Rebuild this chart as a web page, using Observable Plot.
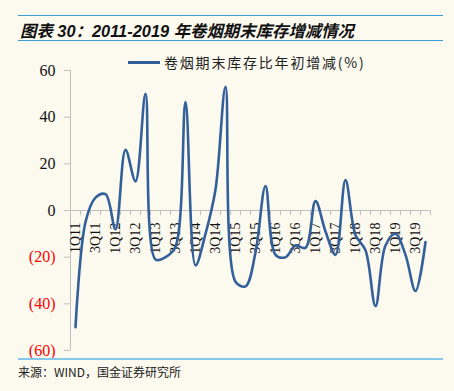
<!DOCTYPE html>
<html>
<head>
<meta charset="utf-8">
<script src="https://cdn.jsdelivr.net/npm/d3@7"></script>
<script src="https://cdn.jsdelivr.net/npm/@observablehq/plot@0.6"></script>
<style>
  html, body { margin: 0; padding: 0; background: #fcf9ef; }
  #wrap { position: relative; width: 454px; height: 391px; overflow: hidden; background: #fcf9ef; }
  #title { position: absolute; left: 18px; top: 15px; width: 425px; height: 26px;
    border-top: 1px solid #3d9ad6; border-bottom: 1px solid #3d9ad6; box-sizing: border-box; }
  #title span { position: absolute; left: 2px; top: 2px; font: italic bold 16.4px "Liberation Sans", "Noto Sans CJK SC", sans-serif; color: #111; white-space: nowrap; }
  #chart { position: absolute; left: 0; top: 50px; }
  #legend { position: absolute; left: 128px; top: 52px; display: flex; align-items: center; white-space: nowrap; }
  #legend .sw { width: 32px; height: 3px; background: #33609a; margin-right: 4px; }
  #legend .tx { font: 14px "Noto Sans CJK SC", "Liberation Serif", serif; letter-spacing: 1.8px; color: #222; }
  #rule { position: absolute; left: 18px; top: 358px; width: 425px; height: 2px; background: #86c8ec; }
  #source { position: absolute; left: 18px; top: 363px; font: 12px "Noto Sans CJK SC", "Liberation Sans", sans-serif; color: #222; white-space: nowrap; }
</style>
</head>
<body>
<div id="wrap">
  <div id="title"><span>图表 30：2011-2019 年卷烟期末库存增减情况</span></div>
  <div id="chart"></div>
  <div id="legend"><div class="sw"></div><div class="tx">卷烟期末库存比年初增减(%)</div></div>
  <div id="rule"></div>
  <div id="source">来源：WIND，国金证券研究所</div>
</div>
<script>
const quarters = [
  "1Q11","2Q11","3Q11","4Q11","1Q12","2Q12","3Q12","4Q12",
  "1Q13","2Q13","3Q13","4Q13","1Q14","2Q14","3Q14","4Q14",
  "1Q15","2Q15","3Q15","4Q15","1Q16","2Q16","3Q16","4Q16",
  "1Q17","2Q17","3Q17","4Q17","1Q18","2Q18","3Q18","4Q18",
  "1Q19","2Q19","3Q19","4Q19"
];
const inventoryChange = [
  -50, -5, 5.5, 7, -8, 26, 12.5, 50,
  -21, -20, -15.5, 46.5, -23.5, -10, 9, 53,
  -30.5, -32.5, -18, 10.5, -19, -20, -15, -16,
  4, -9, -19, 13, -10.5, -17, -41, -15,
  -10, -19, -34.5, -13.5
];
const yTicks = [-60, -40, -20, 0, 20, 40, 60];

const data = quarters.map((q, i) => ({q, i, v: inventoryChange[i]}));
const xTicks = d3.range(0, quarters.length + 1);
const labelled = data.filter(d => d.i % 2 === 0);

const axisColor = "#c0c0c0";
const plot = Plot.plot({
  width: 454,
  height: 310,
  marginTop: 20,
  marginBottom: 10,
  marginLeft: 70,
  marginRight: 24,
  style: {background: "transparent", overflow: "visible"},
  x: {domain: [0, quarters.length], axis: null},
  y: {domain: [-60, 60], axis: null},
  marks: [
    Plot.ruleX([0], {y1: -60, y2: 60, stroke: axisColor, strokeWidth: 1}),
    Plot.ruleY(yTicks, {y: d => d, x1: 0, x2: 0, insetLeft: -6, stroke: axisColor}),
    Plot.text(yTicks, {
      x: 0, y: d => d, dx: -15, textAnchor: "end",
      text: d => d < 0 ? `(${-d})` : `${d}`,
      fill: d => d < 0 ? "#ff0000" : "#111111",
      fontFamily: "Liberation Serif", fontSize: 16
    }),
    Plot.ruleY([0], {x1: 0, x2: quarters.length, stroke: axisColor, strokeWidth: 1}),
    Plot.ruleX(xTicks, {x: d => d, y1: 0, y2: 0, insetBottom: -5, stroke: axisColor}),
    Plot.text(labelled, {
      x: d => d.i + 0.5, y: 0, text: d => d.q, rotate: -90,
      textAnchor: "end", lineAnchor: "middle", dy: 12,
      fill: "#111", fontFamily: "Liberation Serif", fontSize: 14
    }),
    Plot.line(data, {
      x: d => d.i + 0.5, y: "v", curve: "catmull-rom",
      stroke: "#33609a", strokeWidth: 2.6
    })
  ]
});
document.getElementById("chart").appendChild(plot);
</script>
</body>
</html>
